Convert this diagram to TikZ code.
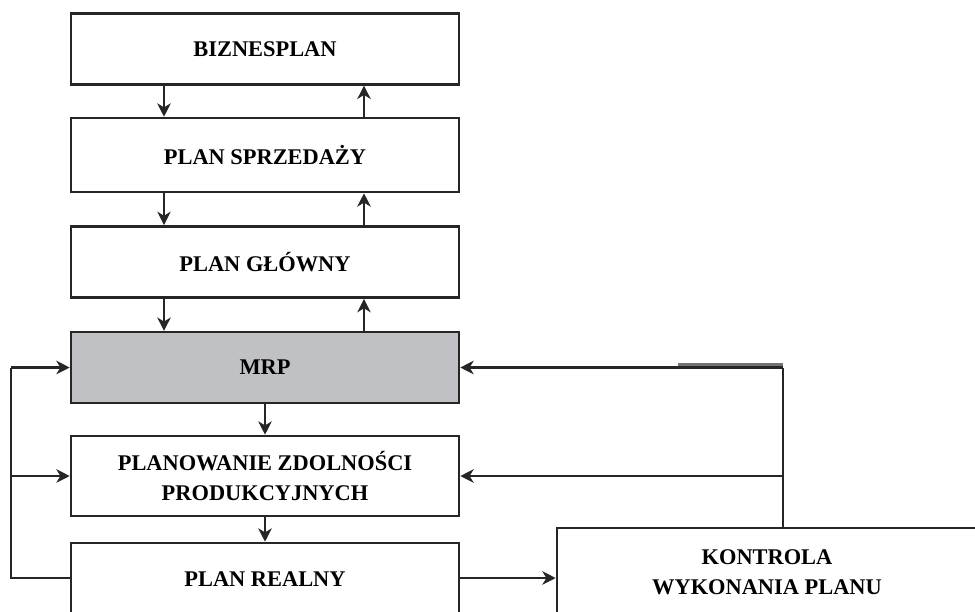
\documentclass[tikz,border=0pt]{standalone}
\usepackage{fontspec}
\setmainfont{Liberation Serif}
\usetikzlibrary{arrows.meta,calc}
\definecolor{ink}{RGB}{38,38,38}
\definecolor{mrpfill}{RGB}{192,193,197}
\begin{document}
\begin{tikzpicture}[x=0.75pt,y=-0.75pt,
  stagebox/.style={draw=ink, line width=1.9pt, fill=white, minimum width=291pt,
    align=center, font=\bfseries\fontsize{16.8}{22.5}\selectfont, inner sep=0pt},
  flow/.style={draw=ink, line width=1.9pt,
    -{Stealth[length=10pt,width=10pt,inset=3pt]}},
  link/.style={draw=ink, line width=1.9pt},
  stub/.style={draw=black!55, line width=1.9pt}]
\clip (0,0) rectangle (975,611);
\useasboundingbox (0,0) rectangle (975,611);

% main chain of planning stages
\node[stagebox, minimum height=53pt] (biz) at (265,49) {BIZNESPLAN};
\node[stagebox, minimum height=55.5pt] (ps) at (265,155) {PLAN SPRZEDAŻY};
\node[stagebox, minimum height=53.5pt] (pg) at (265,262) {PLAN GŁÓWNY};
\node[stagebox, minimum height=53pt, fill=mrpfill] (mrp) at (265,367.5) {MRP};
\node[stagebox, minimum height=60pt] (pzp) at (265,476) {PLANOWANIE ZDOLNOŚCI\\PRODUKCYJNYCH};
\node[stagebox, minimum height=54pt] (pr) at (265,579) {PLAN REALNY};
\node[stagebox, minimum width=315pt, minimum height=66pt] (kon) at (767,572)
  {KONTROLA\\WYKONANIA PLANU};

% columns of the downward and upward links
\coordinate (xd) at (164,0);
\coordinate (xu) at (364,0);

\draw[flow] (biz.south -| xd) -- (ps.north -| xd);
\draw[flow] (ps.north -| xu) -- (biz.south -| xu);
\draw[flow] (ps.south -| xd) -- (pg.north -| xd);
\draw[flow] (pg.north -| xu) -- (ps.south -| xu);
\draw[flow] (pg.south -| xd) -- (mrp.north -| xd);
\draw[flow] (mrp.north -| xu) -- (pg.south -| xu);
\draw[flow] (mrp.south) -- (pzp.north);
\draw[flow] (pzp.south) -- (pr.north);

% feedback loop on the left
\coordinate (lt) at (11,367.5);
\coordinate (lb) at (11,578);
\draw[link] (pr.west |- lb) -- (lb) -- (lt);
\draw[flow] (lt) -- (mrp.west);
\draw[flow] (lt |- pzp.west) -- (pzp.west);

% control of execution and its feedback on the right
\draw[flow] (pr.east |- lb) -- (lb -| kon.west);
\coordinate (rt) at (783,367.5);
\draw[link] (kon.north -| rt) -- (rt);
\draw[flow] (rt) -- (mrp.east);
\draw[flow] (rt |- pzp.east) -- (pzp.east);
\draw[stub] ($(rt)+(-105,-3)$) -- ($(rt)+(0,-3)$);
\end{tikzpicture}
\end{document}
